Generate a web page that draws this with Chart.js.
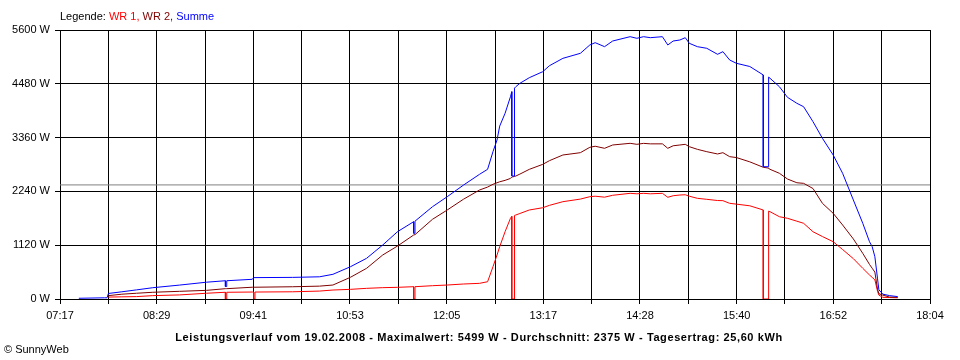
<!DOCTYPE html>
<html>
<head>
<meta charset="utf-8">
<script src="https://cdn.jsdelivr.net/npm/chart.js@4/dist/chart.umd.min.js"></script>
<style>
  html, body { margin: 0; padding: 0; background: #fff; }
  #wrap { position: relative; width: 960px; height: 360px; font-family: "Liberation Sans", Arial, sans-serif; font-size: 11px; }
  #c { position: absolute; left: 0; top: 0; }
  .txt { position: absolute; white-space: nowrap; line-height: 13px; }
  #legend { left: 60px; top: 10px; color: #000; }
  #title { left: 0; width: 958px; text-align: center; top: 331px; font-weight: bold; color: #000; letter-spacing: 0.6px; }
  #copy { left: 4px; top: 343px; color: #000; }
</style>
</head>
<body>
<div id="wrap">
  <canvas id="c" width="960" height="360"></canvas>
  <div id="legend" class="txt">Legende: <span style="color:#ff0000">WR 1,</span> <span style="color:#800000">WR 2,</span> <span style="color:#0000ff">Summe</span></div>
  <div id="title" class="txt">Leistungsverlauf vom 19.02.2008 - Maximalwert: 5499 W - Durchschnitt: 2375 W - Tagesertrag: 25,60 kWh</div>
  <div id="copy" class="txt">© SunnyWeb</div>
</div>
<script>
// ---- data ----
const times = [
  "07:31","07:50","07:52","07:53","08:03","08:14","08:26","08:46","09:06",
  "09:20","09:20","09:21","09:21",
  "09:40","09:41","09:41","09:42","09:42",
  "10:10","10:30","10:40","10:53","11:05","11:17","11:28",
  "11:40","11:40","11:41","11:41",
  "11:54","12:05","12:17","12:29","12:35","12:39","12:42","12:44","12:48","12:52",
  "12:53","12:53","12:55","12:55",
  "12:56","12:59","13:06","13:16","13:21","13:31","13:44","13:51","13:55","14:02",
  "14:08","14:21","14:26","14:31","14:36","14:45","14:49","14:53","14:58","15:02",
  "15:05","15:11","15:18","15:26","15:30","15:35","15:40","15:50",
  "16:00","16:00","16:04","16:04",
  "16:05","16:12","16:18","16:25","16:30","16:37","16:44","16:52","16:59","17:07",
  "17:14","17:19","17:21","17:23","17:25","17:26","17:29","17:34","17:40"
];
const wr1 = [
  null,null,null,40,45,50,70,85,120,
  140,0,0,140,
  145,145,0,0,145,
  150,165,187,201,222,236,243,
  256,0,0,256,
  277,291,312,326,360,672,916,1089,1401,1680,
  1720,0,0,1740,
  1749,1780,1853,1900,1950,2026,2080,2130,2140,2120,
  2159,2200,2190,2200,2190,2200,2117,2150,2165,2170,
  2140,2096,2075,2050,2047,1992,1975,1940,
  1853,0,0,1830,
  1818,1713,1680,1620,1576,1400,1300,1193,1030,840,
  639,500,450,400,160,80,35,30,25
];
const wr2 = [
  null,null,null,70,100,120,140,160,180,
  215,215,215,215,
  245,245,245,245,245,
  255,268,291,452,639,916,1103,
  1332,1332,1340,1340,
  1659,1853,2076,2269,2330,2388,2420,2440,2470,2510,
  2540,2540,2550,2550,
  2560,2600,2699,2803,2880,2998,3046,3158,3180,3137,
  3206,3241,3220,3240,3230,3230,3137,3190,3206,3220,
  3171,3116,3067,3019,3046,2963,2945,2855,
  2742,2742,2725,2720,
  2700,2617,2498,2420,2408,2300,1992,1784,1541,1250,
  950,720,640,560,200,110,80,40,35
];
const summe = [
  15,25,25,115,150,190,235,290,350,
  380,260,260,380,
  410,445,445,445,445,
  450,462,514,672,847,1124,1401,
  1609,1368,1368,1620,
  1921,2130,2370,2596,2700,3067,3310,3600,3866,4211,
  4316,2560,2560,4390,
  4420,4490,4607,4732,4857,5010,5115,5288,5336,5253,
  5371,5461,5427,5461,5440,5461,5288,5371,5392,5440,
  5323,5253,5219,5094,5149,4976,4907,4840,
  4664,2754,2754,4620,
  4595,4420,4199,4074,4003,3691,3345,2998,2617,2061,
  1576,1193,1090,881,420,190,100,70,50
];
const average = 2375;
const xStart = "07:17", xEnd = "18:04";
const xTickLabels = ["07:17","08:29","09:41","10:53","12:05","13:17","14:28","15:40","16:52","18:04"];
const yTicks = [0, 1120, 2240, 3360, 4480, 5600];

// ---- helpers ----
function toMin(t) { const p = t.split(":"); return (+p[0]) * 60 + (+p[1]); }
function series(vals) { return times.map((t, i) => ({ x: toMin(t), y: vals[i] })); }
const xMin = toMin(xStart), xMax = toMin(xEnd);
const nGrid = (xTickLabels.length - 1) * 2;

const FONT = { family: "'Liberation Sans', Arial, sans-serif", size: 11 };

new Chart(document.getElementById("c"), {
  type: "line",
  data: {
    datasets: [
      { label: "Summe", data: series(summe), borderColor: "#0000ff" },
      { label: "WR 2", data: series(wr2), borderColor: "#800000" },
      { label: "WR 1", data: series(wr1), borderColor: "#ff0000" },
      { label: "Durchschnitt", data: [{ x: xMin, y: average }, { x: xMax, y: average }], borderColor: "#808080" }
    ]
  },
  options: {
    responsive: false,
    devicePixelRatio: 1,
    animation: false,
    spanGaps: false,
    layout: { padding: { top: 30, right: 30, left: 0, bottom: 0 } },
    elements: {
      line: { borderWidth: 1, tension: 0, fill: false },
      point: { radius: 0, hoverRadius: 0 }
    },
    plugins: { legend: { display: false }, tooltip: { enabled: false } },
    events: [],
    scales: {
      x: {
        type: "linear",
        min: xMin, max: xMax,
        afterBuildTicks: (s) => {
          const arr = [];
          for (let i = 0; i <= nGrid; i++) arr.push({ value: xMin + (xMax - xMin) * i / nGrid });
          s.ticks = arr;
        },
        afterFit: (s) => { s.height = 61; },
        ticks: {
          autoSkip: false, maxRotation: 0, minRotation: 0,
          color: "#000", font: FONT, padding: 5,
          callback: (v, i) => (i % 2 === 0 ? xTickLabels[i / 2] : "")
        },
        grid: { color: "#000", lineWidth: 1, tickLength: 5, tickColor: "#000", drawOnChartArea: true },
        border: { display: true, color: "#000", width: 1 }
      },
      y: {
        type: "linear",
        min: 0, max: 5600,
        afterBuildTicks: (s) => { s.ticks = yTicks.map(v => ({ value: v })); },
        afterFit: (s) => { s.width = 60; },
        ticks: { color: "#000", font: FONT, padding: 5, callback: (v) => v + " W" },
        grid: { color: "#000", lineWidth: 1, tickLength: 5, tickColor: "#000" },
        border: { display: true, color: "#000", width: 1 }
      }
    }
  }
});
</script>
</body>
</html>
